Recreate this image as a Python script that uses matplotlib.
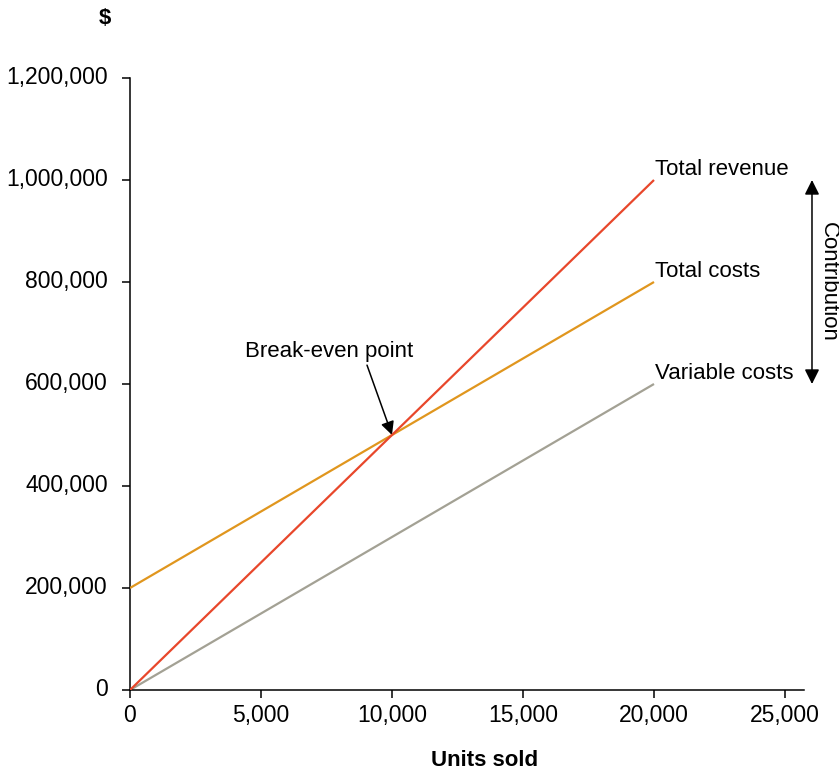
import matplotlib
matplotlib.use("Agg")
import matplotlib.pyplot as plt
from matplotlib.ticker import FuncFormatter
from matplotlib.transforms import ScaledTranslation

plt.rcParams['font.family'] = ['Liberation Sans', 'DejaVu Sans']

# Break-even chart data
units = [0, 20000]
total_revenue = [0, 1000000]
total_costs = [200000, 800000]
variable_costs = [0, 600000]
break_even = (10000, 500000)

x_ticks = [0, 5000, 10000, 15000, 20000, 25000]
y_ticks = [0, 200000, 400000, 600000, 800000, 1000000, 1200000]

c_rev = '#E8472B'
c_tc = '#E0961E'
c_vc = '#A3A194'

fig = plt.figure(figsize=(8.39, 7.70), dpi=100)
ax = fig.add_axes([130/839, 1-690/770, (804-130)/839, (690-78)/770])

ax.plot(units, variable_costs, color=c_vc, lw=1.6, solid_capstyle='butt', zorder=2)
ax.plot(units, total_costs, color=c_tc, lw=1.6, solid_capstyle='butt', zorder=3)
ax.plot(units, total_revenue, color=c_rev, lw=1.6, solid_capstyle='butt', zorder=4)

ax.set_xlim(0, 25725)
ax.set_ylim(0, 1200000)
ax.set_xticks(x_ticks)
ax.set_yticks(y_ticks)
fmt = FuncFormatter(lambda v, p: f"{int(v):,}")
ax.xaxis.set_major_formatter(fmt)
ax.yaxis.set_major_formatter(fmt)

for s in ['top', 'right']:
    ax.spines[s].set_visible(False)
for s in ['left', 'bottom']:
    ax.spines[s].set_linewidth(1.1)
ax.tick_params(axis='both', labelsize=16.5, width=1.1, length=6, color='black')
ax.tick_params(axis='y', pad=10)
ax.tick_params(axis='x', pad=4)

# nudge value labels slightly above their ticks
lift = ScaledTranslation(0, 3/100, fig.dpi_scale_trans)
for lab in ax.get_yticklabels():
    lab.set_transform(lab.get_transform() + lift)

# Line labels at the end of each line
fs = 16
ax.annotate('Total revenue', (units[-1], total_revenue[-1]), xytext=(1, 0),
            textcoords='offset points', ha='left', va='bottom', fontsize=fs)
ax.annotate('Total costs', (units[-1], total_costs[-1]), xytext=(1, 0),
            textcoords='offset points', ha='left', va='bottom', fontsize=fs)
ax.annotate('Variable costs', (units[-1], variable_costs[-1]), xytext=(1, 0),
            textcoords='offset points', ha='left', va='bottom', fontsize=fs)

# Break-even point marker
ax.text(7595, 663000, 'Break-even point', ha='center', va='center', fontsize=fs)
ax.annotate('', xy=break_even, xytext=(9046, 637000),
            arrowprops=dict(arrowstyle='-|>', color='black', lw=1.1,
                            mutation_scale=20, shrinkA=0, shrinkB=0))

# Contribution span between total revenue and variable costs
ax.annotate('', xy=(26030, total_revenue[-1]), xytext=(26030, variable_costs[-1]),
            xycoords='data', textcoords='data', annotation_clip=False,
            arrowprops=dict(arrowstyle='<|-|>', color='black', lw=1.1,
                            mutation_scale=22, shrinkA=0, shrinkB=0))
ax.text(26640, (total_revenue[-1] + variable_costs[-1]) / 2, 'Contribution',
        rotation=-90, ha='center', va='center', fontsize=fs, clip_on=False)

fig.text(485/839, 1-760/770, 'Units sold', ha='center', va='center',
         fontsize=16, fontweight='bold')
fig.text(105/839, 1-18/770, '$', ha='center', va='center',
         fontsize=16, fontweight='bold')

fig.savefig('out.png', dpi=100)
